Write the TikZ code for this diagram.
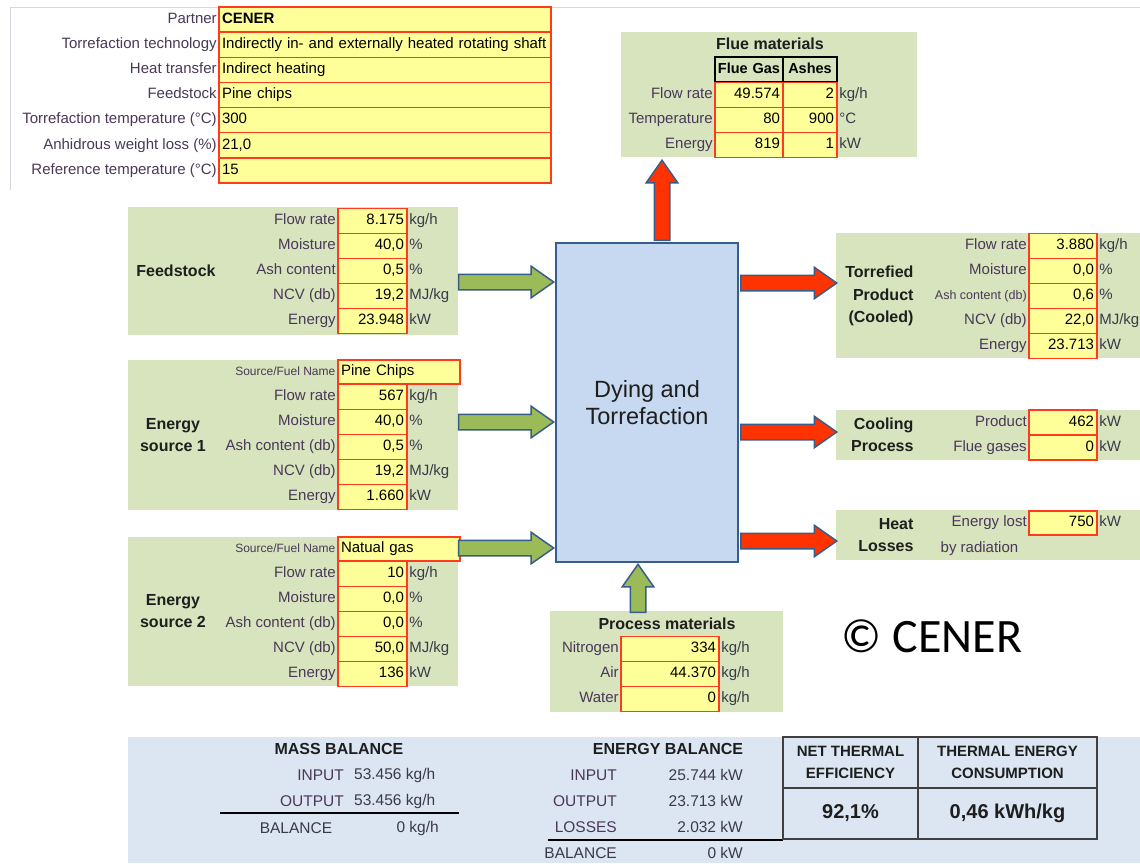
\documentclass[tikz,border=0pt]{standalone}
\usepackage{fontspec}
\setmainfont{Liberation Sans}
\newfontfamily\calibrifont{Carlito}
\usetikzlibrary{positioning, shapes.arrows}

\definecolor{bggreen}{HTML}{D7E4BD}
\definecolor{cellyellow}{HTML}{FFFF99}
\definecolor{cellred}{HTML}{FF3B1F}
\definecolor{lblpurple}{HTML}{4A3858}
\definecolor{unitgray}{HTML}{3A3A4A}
\definecolor{titleblack}{HTML}{1E1E1E}
\definecolor{boxblue}{HTML}{C6D9F1}
\definecolor{arrowedge}{HTML}{385D8A}
\definecolor{arrowgreen}{HTML}{9BBB59}
\definecolor{arrowred}{HTML}{FF3300}
\definecolor{panelblue}{HTML}{DCE6F2}
\definecolor{tabgray}{HTML}{404040}
\definecolor{framegray}{HTML}{D4D8E0}

\tikzset{
  cell/.style={draw=cellred, line width=1.2pt, fill=cellyellow, minimum height=25pt,
    inner xsep=3pt, inner ysep=0pt, text width=#1, align=right,
    text height=11pt, text depth=3.5pt, font=\fontsize{15}{18}\selectfont},
  namecell/.style={cell=#1, align=left},
  headcell/.style={draw=black, line width=1.2pt, minimum height=25pt, inner xsep=1pt,
    inner ysep=0pt, text width=#1, align=center, text height=11pt, text depth=3.5pt,
    font=\bfseries\fontsize{14.5}{18}\selectfont},
  lbl/.style={anchor=east, inner sep=1.5pt, text=lblpurple, text height=11pt,
    text depth=3.5pt, font=\fontsize{15}{18}\selectfont},
  smalllbl/.style={lbl, font=\fontsize{12}{14}\selectfont},
  unit/.style={anchor=west, inner sep=1.5pt, text=unitgray, text height=11pt,
    text depth=3.5pt, font=\fontsize{15}{18}\selectfont},
  group/.style={align=center, text=titleblack, font=\bfseries\fontsize{16}{22.5}\selectfont},
  rgroup/.style={group, align=right, anchor=east},
  heading/.style={text=titleblack, font=\bfseries\fontsize{16}{19}\selectfont},
  inarrow/.style={single arrow, draw=arrowedge, line width=1.5pt, fill=arrowgreen,
    inner xsep=0pt, inner ysep=7pt, single arrow head extend=8pt,
    single arrow tip angle=70, minimum height=#1},
  outarrow/.style={inarrow=#1, fill=arrowred},
  upright/.style={shape border rotate=90, inner xsep=7pt, inner ysep=0pt},
  balance/.style={inner sep=1pt, font=\fontsize{15.5}{18}\selectfont},
  tabcell/.style={draw=tabgray, line width=1.5pt, align=center, text=titleblack,
    font=\bfseries\fontsize{15}{22}\selectfont}
}

\begin{document}
\begin{tikzpicture}[x=1pt, y=-1pt]
            \useasboundingbox (0, 0) rectangle (1140, 863);
            \fill[white] (0, 0) rectangle (1140, 863);
            \draw[framegray, line width=1pt] (10, 190) -- (10, 7) -- (1140, 7);

            % general data
            \node[namecell=326pt, font=\bfseries\fontsize{15}{18}\selectfont] (partner) at (385, 19.5) {CENER};
            \node[namecell=326pt] (tech) at (385, 44.7) {Indirectly in- and externally heated rotating shaft};
            \node[namecell=326pt] (heat) at (385, 69.9) {Indirect heating};
            \node[namecell=326pt] (feed) at (385, 95) {Pine chips};
            \node[namecell=326pt] (ttemp) at (385, 120.1) {300};
            \node[namecell=326pt] (wloss) at (385, 145.3) {21,0};
            \node[namecell=326pt] (reftemp) at (385, 170.4) {15};
            \node[lbl, left=0pt of partner] {Partner};
            \node[lbl, left=0pt of tech] {Torrefaction technology};
            \node[lbl, left=0pt of heat] {Heat transfer};
            \node[lbl, left=0pt of feed] {Feedstock};
            \node[lbl, left=0pt of ttemp] {Torrefaction temperature (°C)};
            \node[lbl, left=0pt of wloss] {Anhidrous weight loss (\%)};
            \node[lbl, left=0pt of reftemp] {Reference temperature (°C)};

            % flue materials
            \fill[bggreen] (621, 32) rectangle (917, 157);
            \node[heading] (fluetitle) at (770, 44) {Flue materials};
            \node[headcell=66pt, fill=bggreen] (fluegas) at (749, 69.5) {Flue Gas};
            \node[headcell=52pt, fill=bggreen] (ashes) at (810, 69.5) {Ashes};
            \node[cell=62pt] (gasflow) at (749, 95) {49.574};
            \node[cell=62pt] (gastemp) at (749, 120) {80};
            \node[cell=62pt] (gasenergy) at (749, 145) {819};
            \node[cell=48pt] (ashflow) at (810, 95) {2};
            \node[cell=48pt] (ashtemp) at (810, 120) {900};
            \node[cell=48pt] (ashenergy) at (810, 145) {1};
            \node[lbl, left=0pt of gasflow] {Flow rate};
            \node[lbl, left=0pt of gastemp] {Temperature};
            \node[lbl, left=0pt of gasenergy] {Energy};
            \node[unit, right=0pt of ashflow] {kg/h};
            \node[unit, right=0pt of ashtemp] {°C};
            \node[unit, right=0pt of ashenergy] {kW};

            % feedstock
            \fill[bggreen] (128, 207) rectangle (458, 335);
            \node[group] (fslabel) at (176, 271) {Feedstock};
            \node[cell=63pt] (fsflow) at (372.5, 221) {8.175};
            \node[cell=63pt] (fsmoist) at (372.5, 246) {40,0};
            \node[cell=63pt] (fsash) at (372.5, 271) {0,5};
            \node[cell=63pt] (fsncv) at (372.5, 296) {19,2};
            \node[cell=63pt] (fsenergy) at (372.5, 321) {23.948};
            \node[lbl, left=0pt of fsflow] {Flow rate};
            \node[lbl, left=0pt of fsmoist] {Moisture};
            \node[lbl, left=0pt of fsash] {Ash content};
            \node[lbl, left=0pt of fsncv] {NCV (db)};
            \node[lbl, left=0pt of fsenergy] {Energy};
            \node[unit, right=0pt of fsflow] {kg/h};
            \node[unit, right=0pt of fsmoist] {\%};
            \node[unit, right=0pt of fsash] {\%};
            \node[unit, right=0pt of fsncv] {MJ/kg};
            \node[unit, right=0pt of fsenergy] {kW};

            % energy source 1
            \fill[bggreen] (128, 360) rectangle (458, 510);
            \node[group] (esonelabel) at (173, 435) {Energy\\source 1};
            \node[namecell=116pt, minimum height=24pt] (esonename) at (399, 372) {Pine Chips};
            \node[cell=63pt] (esoneflow) at (372.5, 397) {567};
            \node[cell=63pt] (esonemoist) at (372.5, 422) {40,0};
            \node[cell=63pt] (esoneash) at (372.5, 447) {0,5};
            \node[cell=63pt] (esonencv) at (372.5, 472) {19,2};
            \node[cell=63pt] (esoneenergy) at (372.5, 497) {1.660};
            \node[smalllbl] at (337, 372) {Source/Fuel Name};
            \node[lbl, left=0pt of esoneflow] {Flow rate};
            \node[lbl, left=0pt of esonemoist] {Moisture};
            \node[lbl, left=0pt of esoneash] {Ash content (db)};
            \node[lbl, left=0pt of esonencv] {NCV (db)};
            \node[lbl, left=0pt of esoneenergy] {Energy};
            \node[unit, right=0pt of esoneflow] {kg/h};
            \node[unit, right=0pt of esonemoist] {\%};
            \node[unit, right=0pt of esoneash] {\%};
            \node[unit, right=0pt of esonencv] {MJ/kg};
            \node[unit, right=0pt of esoneenergy] {kW};

            % energy source 2
            \fill[bggreen] (128, 537) rectangle (458, 686);
            \node[group] (estwolabel) at (173, 611) {Energy\\source 2};
            \node[namecell=116pt, minimum height=24pt] (estwoname) at (399, 549) {Natual gas};
            \node[cell=63pt] (estwoflow) at (372.5, 574) {10};
            \node[cell=63pt] (estwomoist) at (372.5, 599) {0,0};
            \node[cell=63pt] (estwoash) at (372.5, 624) {0,0};
            \node[cell=63pt] (estwoncv) at (372.5, 649) {50,0};
            \node[cell=63pt] (estwoenergy) at (372.5, 674) {136};
            \node[smalllbl] at (337, 549) {Source/Fuel Name};
            \node[lbl, left=0pt of estwoflow] {Flow rate};
            \node[lbl, left=0pt of estwomoist] {Moisture};
            \node[lbl, left=0pt of estwoash] {Ash content (db)};
            \node[lbl, left=0pt of estwoncv] {NCV (db)};
            \node[lbl, left=0pt of estwoenergy] {Energy};
            \node[unit, right=0pt of estwoflow] {kg/h};
            \node[unit, right=0pt of estwomoist] {\%};
            \node[unit, right=0pt of estwoash] {\%};
            \node[unit, right=0pt of estwoncv] {MJ/kg};
            \node[unit, right=0pt of estwoenergy] {kW};

            % reactor
            \node[draw=arrowedge, line width=2pt, fill=boxblue, minimum width=182pt,
                  minimum height=319pt, align=center, text=titleblack,
                  font=\fontsize{23.5}{27}\selectfont] (dry) at (647, 402.5) {Dying and\\Torrefaction};

            % torrefied product
            \fill[bggreen] (836, 233) rectangle (1140, 358);
            \node[rgroup] (prodlabel) at (917, 296) {Torrefied\\Product\\(Cooled)};
            \node[cell=62pt] (prflow) at (1063, 246) {3.880};
            \node[cell=62pt] (prmoist) at (1063, 271) {0,0};
            \node[cell=62pt] (prash) at (1063, 296) {0,6};
            \node[cell=62pt] (prncv) at (1063, 321) {22,0};
            \node[cell=62pt] (prenergy) at (1063, 346) {23.713};
            \node[lbl, left=0pt of prflow] {Flow rate};
            \node[lbl, left=0pt of prmoist] {Moisture};
            \node[lbl, font=\fontsize{12.5}{14}\selectfont, left=0pt of prash] {Ash content (db)};
            \node[lbl, left=0pt of prncv] {NCV (db)};
            \node[lbl, left=0pt of prenergy] {Energy};
            \node[unit, right=0pt of prflow] {kg/h};
            \node[unit, right=0pt of prmoist] {\%};
            \node[unit, right=0pt of prash] {\%};
            \node[unit, right=0pt of prncv] {MJ/kg};
            \node[unit, right=0pt of prenergy] {kW};

            % cooling
            \fill[bggreen] (836, 410) rectangle (1140, 460);
            \node[rgroup] (coollabel) at (917, 435) {Cooling\\Process};
            \node[cell=62pt] (coolprod) at (1063, 422.5) {462};
            \node[cell=62pt] (coolgas) at (1063, 447.5) {0};
            \node[lbl, left=0pt of coolprod] {Product};
            \node[lbl, left=0pt of coolgas] {Flue gases};
            \node[unit, right=0pt of coolprod] {kW};
            \node[unit, right=0pt of coolgas] {kW};

            % heat losses
            \fill[bggreen] (836, 510) rectangle (1140, 560);
            \node[rgroup] (losslabel) at (917, 535) {Heat\\Losses};
            \node[cell=62pt, minimum height=24pt] (lost) at (1063, 523) {750};
            \node[lbl, left=0pt of lost] {Energy lost};
            \node[unit, right=0pt of lost] {kW};
            \node[unit, text=lblpurple] (radiation) at (939, 549) {by radiation};

            % process materials
            \fill[bggreen] (550, 611) rectangle (783, 712);
            \node[heading] (proctitle) at (667, 624) {Process materials};
            \node[cell=92pt] (nitrogen) at (670, 649) {334};
            \node[cell=92pt] (air) at (670, 674) {44.370};
            \node[cell=92pt] (water) at (670, 699) {0};
            \node[lbl, left=0pt of nitrogen] {Nitrogen};
            \node[lbl, left=0pt of air] {Air};
            \node[lbl, left=0pt of water] {Water};
            \node[unit, right=0pt of nitrogen] {kg/h};
            \node[unit, right=0pt of air] {kg/h};
            \node[unit, right=0pt of water] {kg/h};

            % flows
            \node[inarrow=95pt, anchor=tip] (fsin) at (555, 282) {};
            \node[inarrow=95pt, anchor=tip] (esonein) at (555, 422) {};
            \node[inarrow=95pt, anchor=tip] (estwoin) at (555, 548) {};
            \node[inarrow=48pt, upright, anchor=tip] (procin) at (638, 563) {};
            \node[outarrow=80pt, upright, anchor=tail] (flueout) at (662, 241) {};
            \node[outarrow=96pt, anchor=tail] (prodout) at (740, 283) {};
            \node[outarrow=96pt, anchor=tail] (coolout) at (740, 432) {};
            \node[outarrow=96pt, anchor=tail] (lossout) at (740, 541) {};

            \node[font=\calibrifont\fontsize{48}{54}\selectfont] (copyright) at (932, 636) {© CENER};

            % balances
            \fill[panelblue] (128, 737) rectangle (1140, 863);
            \node[heading] (masstitle) at (339, 749) {MASS BALANCE};
            \node[balance, anchor=east, text=lblpurple] (minlbl) at (345, 775) {INPUT};
            \node[balance, anchor=east, text=lblpurple] (moutlbl) at (345, 801) {OUTPUT};
            \node[balance, text=unitgray] (mballbl) at (296, 828) {BALANCE};
            \node[balance, anchor=west, text=unitgray] (minval) at (353, 775) {53.456 kg/h};
            \node[balance, anchor=west, text=unitgray] (moutval) at (353, 801) {53.456 kg/h};
            \node[balance, anchor=east, text=unitgray] (mbalval) at (440, 828) {0 kg/h};
            \draw[line width=2pt] (220, 813) -- (459, 813);

            \node[heading] (energytitle) at (668, 749) {ENERGY BALANCE};
            \node[balance, anchor=east, text=lblpurple] (einlbl) at (618, 775) {INPUT};
            \node[balance, anchor=east, text=lblpurple] (eoutlbl) at (618, 801) {OUTPUT};
            \node[balance, anchor=east, text=lblpurple] (elosslbl) at (618, 827) {LOSSES};
            \node[balance, anchor=east, text=unitgray] (eballbl) at (618, 853) {BALANCE};
            \node[balance, anchor=east, text=unitgray] (einval) at (744, 775) {25.744 kW};
            \node[balance, anchor=east, text=unitgray] (eoutval) at (744, 801) {23.713 kW};
            \node[balance, anchor=east, text=unitgray] (elossval) at (744, 827) {2.032 kW};
            \node[balance, anchor=east, text=unitgray] (ebalval) at (744, 853) {0 kW};
            \draw[line width=2pt] (548, 840) -- (783, 840);

            \node[tabcell, minimum width=135pt, minimum height=51pt] (effhead) at (850.5, 762.5) {NET THERMAL\\EFFICIENCY};
            \node[tabcell, minimum width=179pt, minimum height=51pt] (conshead) at (1007.5, 762.5) {THERMAL ENERGY\\CONSUMPTION};
            \node[tabcell, minimum width=135pt, minimum height=51pt, font=\bfseries\fontsize{20}{24}\selectfont] (effval) at (850.5, 813.5) {92,1\%};
            \node[tabcell, minimum width=179pt, minimum height=51pt, font=\bfseries\fontsize{20}{24}\selectfont] (consval) at (1007.5, 813.5) {0,46 kWh/kg};
        \end{tikzpicture}
\end{document}
